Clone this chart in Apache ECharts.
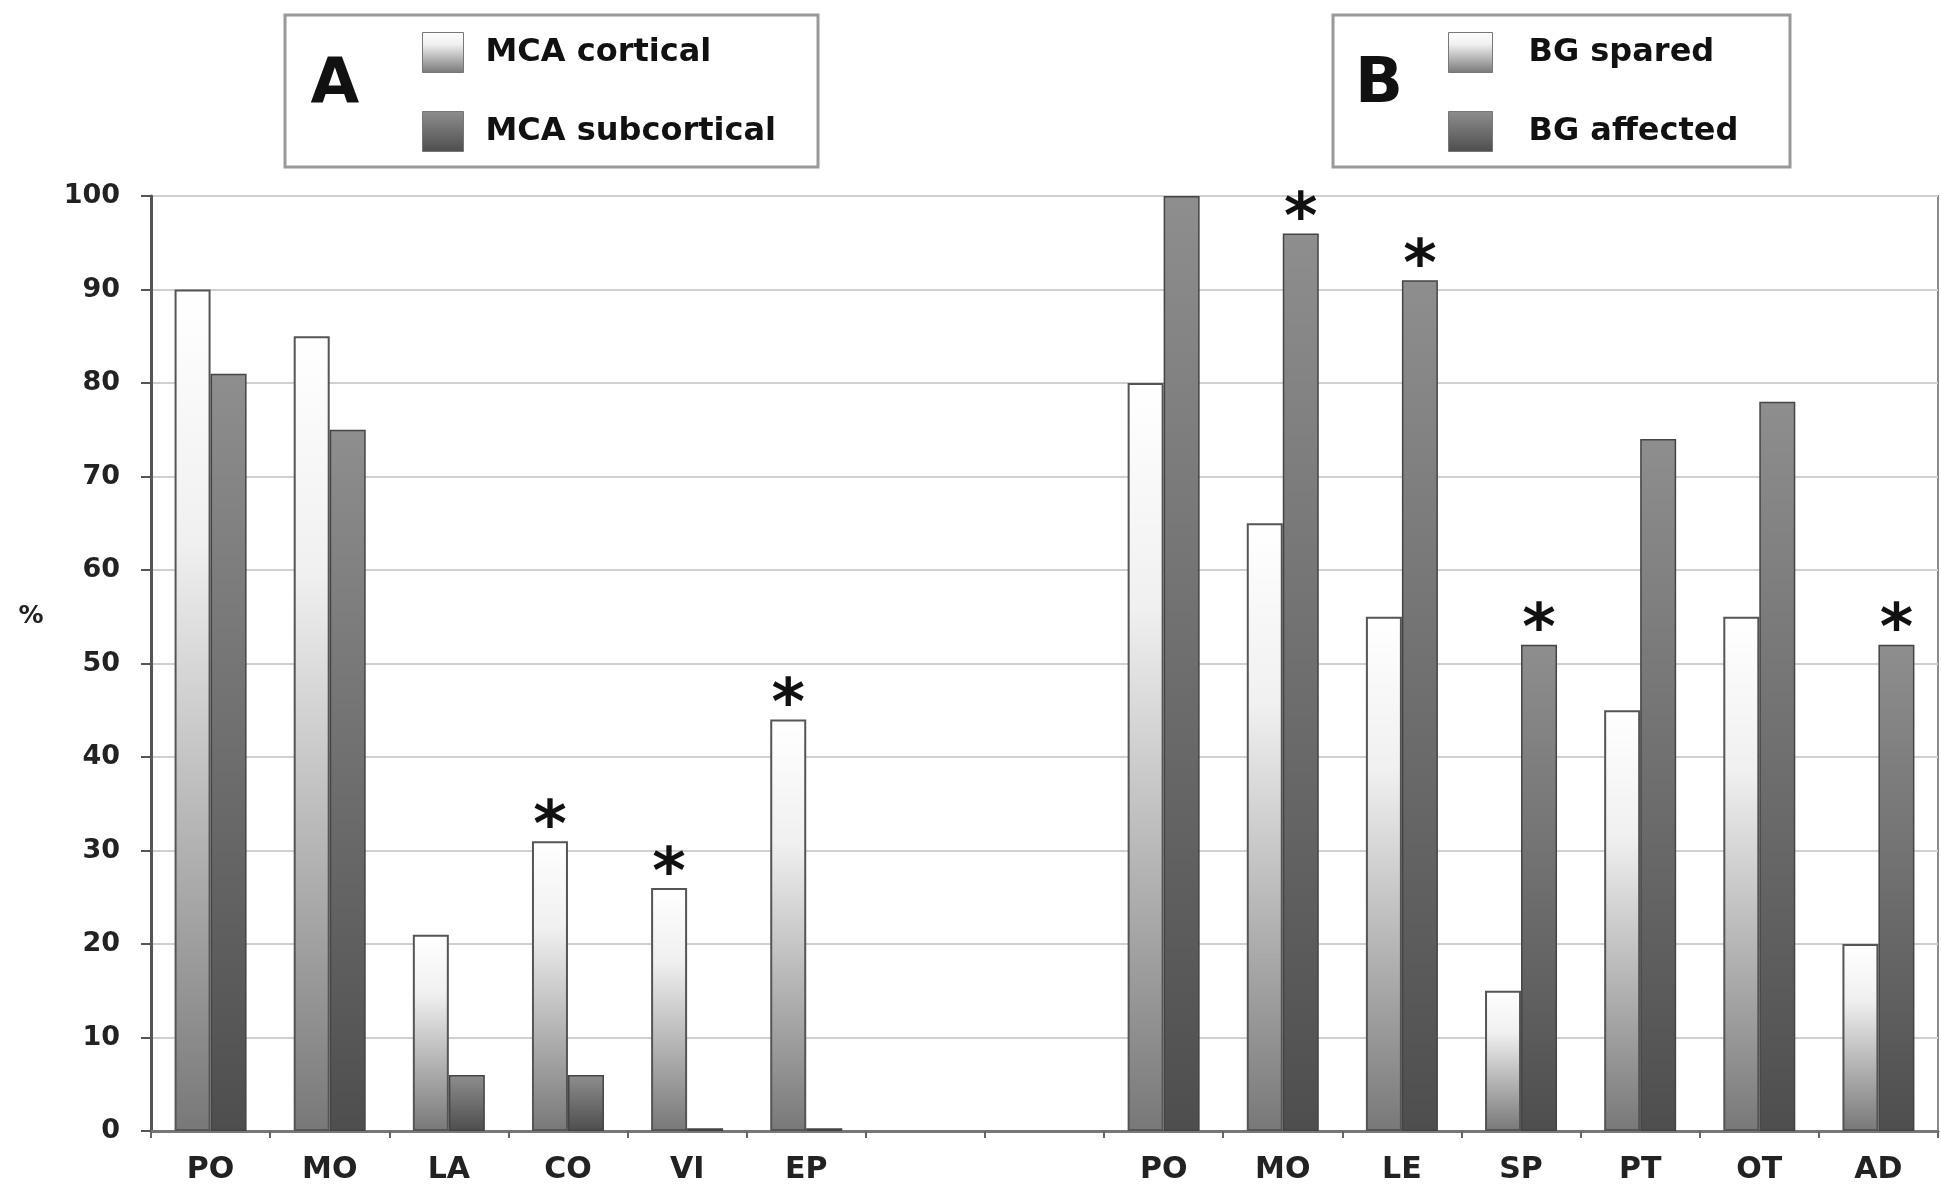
<!DOCTYPE html>
<html>
<head>
<meta charset="utf-8">
<script src="https://cdn.jsdelivr.net/npm/echarts@6/dist/echarts.min.js"></script>
<style>
html,body{margin:0;padding:0;background:#fff;}
#chart{width:1941px;height:1188px;}
</style>
</head>
<body>
<div id="chart"></div>
<script>
const categories = ['PO','MO','LA','CO','VI','EP','','','PO','MO','LE','SP','PT','OT','AD'];
const mcaCortical    = [90, 85, 21, 31, 26, 44, '-', '-', '-', '-', '-', '-', '-', '-', '-'];
const mcaSubcortical = [81, 75, 6, 6, 0.3, 0.3, '-', '-', '-', '-', '-', '-', '-', '-', '-'];
const bgSpared       = ['-', '-', '-', '-', '-', '-', '-', '-', 80, 65, 55, 15, 45, 55, 20];
const bgAffected     = ['-', '-', '-', '-', '-', '-', '-', '-', 100, 96, 91, 52, 74, 78, 52];
const starIndicesLight = [3, 4, 5];
const starIndicesDark = [9, 10, 11, 14];
const yTicks = [0, 10, 20, 30, 40, 50, 60, 70, 80, 90, 100];

const FONT = 'DejaVu Sans';

function withStars(arr, stars) {
  return arr.map((v, i) => stars.includes(i) && v !== '-' ? { value: v, label: { show: true } } : v);
}

const lightGrad = { type: 'linear', x: 0, y: 0, x2: 0, y2: 1, colorStops: [
  { offset: 0, color: '#ffffff' }, { offset: 0.3, color: '#f0f0f0' }, { offset: 1, color: '#787878' } ] };
const darkGrad = { type: 'linear', x: 0, y: 0, x2: 0, y2: 1, colorStops: [
  { offset: 0, color: '#8e8e8e' }, { offset: 1, color: '#4e4e4e' } ] };

const starLabel = {
  show: false, position: 'top', formatter: '*', distance: -20,
  fontSize: 64, fontWeight: 'bold', fontFamily: FONT, color: '#111'
};

const lightStyle = { color: lightGrad, borderColor: '#555', borderWidth: 2 };
const darkStyle = { color: darkGrad, borderColor: '#444', borderWidth: 1.5 };

const chart = echarts.init(document.getElementById('chart'));
chart.setOption({
  backgroundColor: '#fff',
  animation: false,
  grid: { left: 151, right: 3, top: 196, bottom: 57, show: true, borderColor: '#8a8a8a', borderWidth: 2,
          containLabel: false, outerBoundsMode: 'none' },
  legend: [
    { data: ['MCA cortical', 'MCA subcortical'], orient: 'vertical', left: 422, top: 32,
      itemWidth: 41, itemHeight: 40, itemGap: 38, padding: 0, icon: 'rect',
      itemStyle: { borderColor: '#777', borderWidth: 1 },
      textStyle: { fontSize: 32, fontWeight: 'bold', fontFamily: FONT, color: '#111', lineHeight: 40, padding: [0, 0, 0, 17] } },
    { data: ['BG spared', 'BG affected'], orient: 'vertical', left: 1448, top: 32,
      itemWidth: 44, itemHeight: 40, itemGap: 38, padding: 0, icon: 'rect',
      itemStyle: { borderColor: '#777', borderWidth: 1 },
      textStyle: { fontSize: 32, fontWeight: 'bold', fontFamily: FONT, color: '#111', lineHeight: 40, padding: [0, 0, 0, 31] } }
  ],
  graphic: [
    { type: 'rect', shape: { x: 285, y: 15, width: 533, height: 152 }, style: { fill: 'none', stroke: '#999', lineWidth: 3 } },
    { type: 'rect', shape: { x: 1333, y: 15, width: 457, height: 152 }, style: { fill: 'none', stroke: '#999', lineWidth: 3 } },
    { type: 'text', x: 335, y: 86, style: { text: 'A', fontSize: 63, fontWeight: 'bold', fontFamily: FONT, fill: '#111', align: 'center', verticalAlign: 'middle' } },
    { type: 'text', x: 1379, y: 86, style: { text: 'B', fontSize: 63, fontWeight: 'bold', fontFamily: FONT, fill: '#111', align: 'center', verticalAlign: 'middle' } },
    { type: 'text', x: 31, y: 616, style: { text: '%', fontSize: 25, fontWeight: 'bold', fontFamily: FONT, fill: '#222', align: 'center', verticalAlign: 'middle' } }
  ],
  xAxis: {
    type: 'category', data: categories, boundaryGap: true,
    axisLine: { lineStyle: { color: '#777', width: 3 } },
    axisTick: { show: true, length: 7, lineStyle: { color: '#666', width: 2 } },
    axisLabel: { interval: 0, fontSize: 30, fontWeight: 'bold', fontFamily: FONT, color: '#222', margin: 24 },
    splitLine: { show: false }
  },
  yAxis: {
    type: 'value', min: 0, max: 100, interval: 10,
    axisLine: { show: true, lineStyle: { color: '#555', width: 3 } },
    axisTick: { show: true, length: 10, lineStyle: { color: '#555', width: 2 } },
    axisLabel: { fontSize: 27, fontWeight: 'bold', fontFamily: FONT, color: '#222', margin: 31,
                 formatter: v => yTicks.includes(v) ? String(v) : '' },
    splitLine: { show: true, lineStyle: { color: '#d0d0d0', width: 2 } }
  },
  series: [
    { name: 'MCA cortical', type: 'bar', stack: 'light', barWidth: 36, barGap: '0%',
      itemStyle: lightStyle, label: starLabel, data: withStars(mcaCortical, starIndicesLight) },
    { name: 'MCA subcortical', type: 'bar', stack: 'dark', barWidth: 36, barGap: '0%',
      itemStyle: darkStyle, label: starLabel, data: withStars(mcaSubcortical, starIndicesDark) },
    { name: 'BG spared', type: 'bar', stack: 'light', barWidth: 36, barGap: '0%',
      itemStyle: lightStyle, label: starLabel, data: withStars(bgSpared, starIndicesLight) },
    { name: 'BG affected', type: 'bar', stack: 'dark', barWidth: 36, barGap: '0%',
      itemStyle: darkStyle, label: starLabel, data: withStars(bgAffected, starIndicesDark) }
  ]
});
</script>
</body>
</html>
